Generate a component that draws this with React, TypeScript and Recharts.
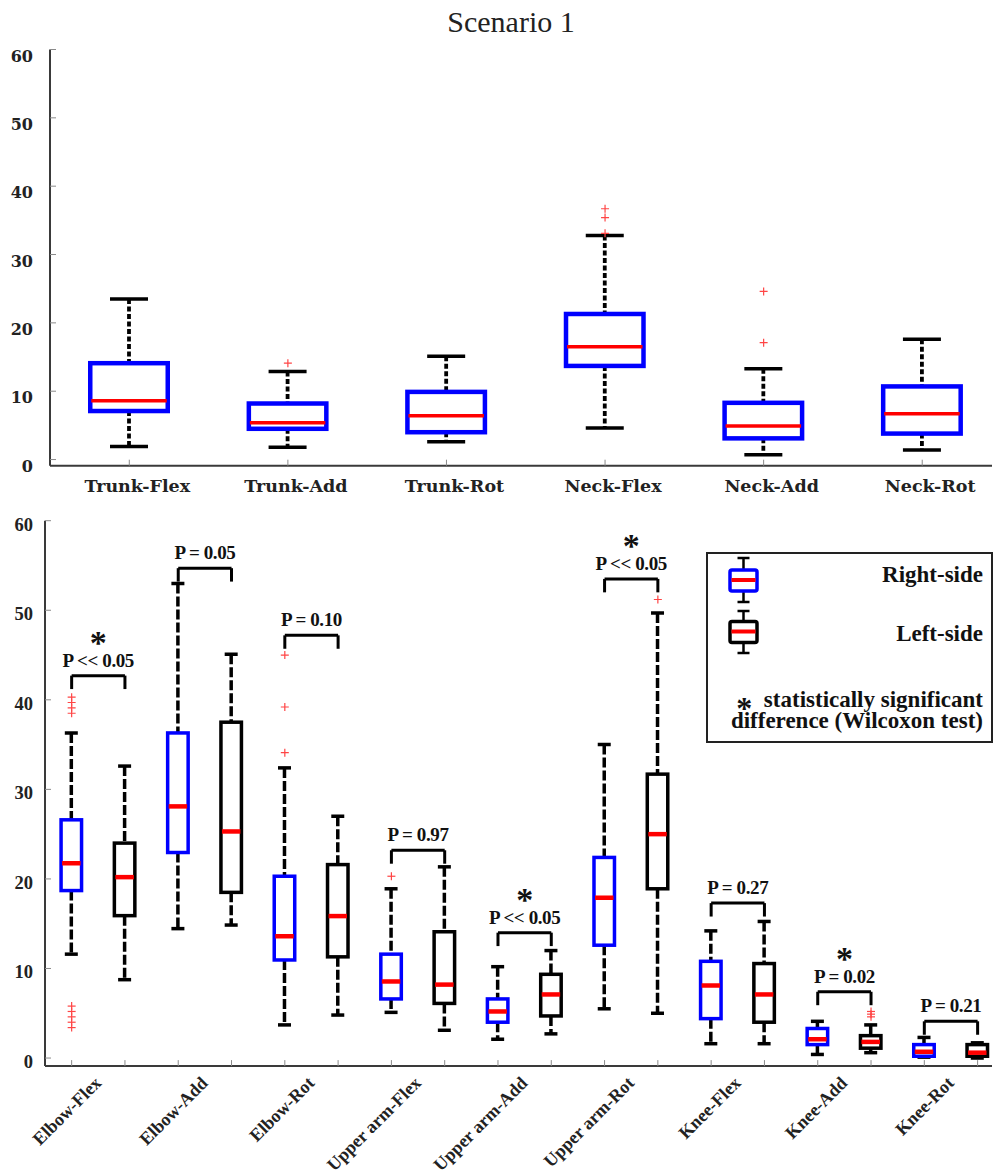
import React from 'react';
import { ComposedChart, Bar, Scatter, XAxis, YAxis, ReferenceLine } from 'recharts';

// ---- top panel: trunk & neck (right side only) ----
const topJoints = ['Trunk-Flex', 'Trunk-Add', 'Trunk-Rot', 'Neck-Flex', 'Neck-Add', 'Neck-Rot'];
const topMin = [1.9, 1.8, 2.6, 4.6, 0.7, 1.4];
const topQ1 = [7.1, 4.5, 4.0, 13.7, 3.1, 3.8];
const topMedian = [8.6, 5.4, 6.4, 16.5, 4.9, 6.7];
const topQ3 = [14.1, 8.2, 9.9, 21.3, 8.3, 10.7];
const topMax = [23.5, 12.9, 15.1, 32.8, 13.3, 17.6];
const topOutliers: number[][] = [[], [14.1], [], [36.7, 35.4, 33.1], [24.6, 17.1], []];

// ---- bottom panel: limbs, right vs left side ----
const limbJoints = ['Elbow-Flex', 'Elbow-Add', 'Elbow-Rot', 'Upper arm-Flex', 'Upper arm-Add', 'Upper arm-Rot', 'Knee-Flex', 'Knee-Add', 'Knee-Rot'];
const rightMin = [11.6, 14.45, 3.7, 5.1, 2.1, 5.5, 1.6, 0.4, 0.1];
const rightQ1 = [18.7, 22.95, 10.95, 6.6, 4.0, 12.6, 4.4, 1.5, 0.2];
const rightMedian = [21.75, 28.1, 13.6, 8.55, 5.2, 17.9, 8.1, 2.1, 0.7];
const rightQ3 = [26.6, 36.3, 20.3, 11.6, 6.6, 22.4, 10.8, 3.3, 1.5];
const rightMax = [36.3, 53.0, 32.4, 18.9, 10.2, 35.0, 14.2, 4.1, 2.3];
const rightOutliers: number[][] = [[40.3, 39.7, 39.1, 38.5, 5.8, 5.2, 4.6, 4.0, 3.4], [], [45.0, 39.2, 34.1], [20.3], [], [], [], [], []];

const leftMin = [8.75, 14.85, 4.8, 3.1, 2.7, 5.0, 1.6, 0.6, 0.0];
const leftQ1 = [15.9, 18.5, 11.3, 6.1, 4.7, 18.9, 4.0, 1.1, 0.2];
const leftMedian = [20.2, 25.3, 15.85, 8.2, 7.1, 25.0, 7.1, 1.8, 0.6];
const leftQ3 = [24.0, 37.5, 21.6, 14.1, 9.35, 31.7, 10.55, 2.5, 1.5];
const leftMax = [32.6, 45.1, 27.0, 21.35, 12.0, 49.7, 15.25, 3.7, 1.7];
const leftOutliers: number[][] = [[], [], [], [], [], [51.2], [], [5.2, 4.9, 4.6], []];

// Wilcoxon annotations
const pLabels = ['P << 0.05', 'P = 0.05', 'P = 0.10', 'P = 0.97', 'P << 0.05', 'P << 0.05', 'P = 0.27', 'P = 0.02', 'P = 0.21'];
const pSignificant = [true, false, false, false, true, true, false, true, false];
const bracketLevel = [42.7, 54.7, 47.2, 23.2, 14.0, 53.5, 17.3, 7.4, 4.1];

const yTicks = [0, 10, 20, 30, 40, 50, 60];
const yDomain: [number, number] = [-0.9, 60];

const AXIS = '#3a3a3a';
const TICK = '#8a8a8a';
const BLUE = '#0000ff';
const RED = '#ff0000';
const SERIF = 'Liberation Serif, Times New Roman, serif';

const topData = topJoints.map((name, i) => ({
  pos: i + 1,
  name,
  side: 'right',
  range: [topMin[i], topMax[i]],
  min: topMin[i],
  q1: topQ1[i],
  median: topMedian[i],
  q3: topQ3[i],
  max: topMax[i],
}));
const topOutlierData = topOutliers.flatMap((vals, i) => vals.map((v) => ({ pos: i + 1, value: v })));

const limbData = limbJoints.flatMap((name, i) => [
  {
    pos: 2 * i + 1,
    name,
    side: 'right',
    range: [rightMin[i], rightMax[i]],
    min: rightMin[i],
    q1: rightQ1[i],
    median: rightMedian[i],
    q3: rightQ3[i],
    max: rightMax[i],
  },
  {
    pos: 2 * i + 2,
    name,
    side: 'left',
    range: [leftMin[i], leftMax[i]],
    min: leftMin[i],
    q1: leftQ1[i],
    median: leftMedian[i],
    q3: leftQ3[i],
    max: leftMax[i],
  },
]);
const limbOutlierData = [
  ...rightOutliers.flatMap((vals, i) => vals.map((v) => ({ pos: 2 * i + 1, value: v }))),
  ...leftOutliers.flatMap((vals, i) => vals.map((v) => ({ pos: 2 * i + 2, value: v }))),
];
const annotationData = pLabels.map((label, i) => ({
  pos: 2 * i + 1.5,
  value: bracketLevel[i],
  label,
  sig: pSignificant[i],
}));

const topPositions = topJoints.map((_, i) => i + 1);
const limbPositions = limbData.map((d) => d.pos);
// integer ticks carry the marks, the half ticks carry the joint names
const limbTicks = [...limbPositions, ...limbJoints.map((_, i) => 2 * i + 1.5)].sort((a, b) => a - b);

interface BoxLook {
  boxStroke: number;
  whisker: number;
  dash: string;
  cap: number;
  median: number;
}

const topLook: BoxLook = { boxStroke: 4.5, whisker: 3.8, dash: '5 2.5', cap: 19, median: 3.5 };
const limbLook: BoxLook = { boxStroke: 3.5, whisker: 3.5, dash: '10 3', cap: 6.5, median: 4.5 };

function BoxShape(props: any) {
  const { x, y, width, height, payload, look } = props;
  if (!payload || height == null || isNaN(height)) return null;
  const { min, q1, median, q3, max } = payload;
  const k = max - min > 0 ? height / (max - min) : 0;
  const py = (v: number) => y + (max - v) * k;
  const cx = x + width / 2;
  const half = width / 2 - look.boxStroke / 2;
  const color = payload.side === 'left' ? '#000' : BLUE;
  return (
    <g>
      <line x1={cx} x2={cx} y1={py(max)} y2={py(q3)} stroke="#000" strokeWidth={look.whisker} strokeDasharray={look.dash} />
      <line x1={cx} x2={cx} y1={py(q1)} y2={py(min)} stroke="#000" strokeWidth={look.whisker} strokeDasharray={look.dash} />
      <line x1={cx - look.cap} x2={cx + look.cap} y1={py(max)} y2={py(max)} stroke="#000" strokeWidth={3.5} />
      <line x1={cx - look.cap} x2={cx + look.cap} y1={py(min)} y2={py(min)} stroke="#000" strokeWidth={3.5} />
      <rect x={cx - half} y={py(q3)} width={2 * half} height={Math.max(py(q1) - py(q3), 0)} fill="#fff" stroke={color} strokeWidth={look.boxStroke} />
      <line x1={cx - half + 1} x2={cx + half - 1} y1={py(median)} y2={py(median)} stroke={RED} strokeWidth={look.median} />
    </g>
  );
}

function Plus(props: any) {
  const { cx, cy } = props;
  return (
    <g stroke="#ff4545" strokeWidth={1.2}>
      <line x1={cx - 4} x2={cx + 4} y1={cy} y2={cy} />
      <line x1={cx} x2={cx} y1={cy - 4} y2={cy + 4} />
    </g>
  );
}

function PLabel(props: any) {
  const { cx, cy, payload } = props;
  return (
    <text textAnchor="middle" fontFamily={SERIF} fontWeight="bold" fill="#111">
      {payload.sig && (
        <tspan x={cx} y={cy - 22} fontSize={34}>*</tspan>
      )}
      <tspan x={cx} y={cy - 9} fontSize={19} letterSpacing={-0.4}>{payload.label}</tspan>
    </text>
  );
}

// ---- tick renderers (tickSize / tickMargin are 0, so x/y sit on the axis line) ----
function TopXTick(props: any) {
  const { x, y, payload } = props;
  return (
    <g>
      <line x1={x} x2={x} y1={y} y2={y - 6} stroke={TICK} />
      <text x={x + 8} y={y + 26} textAnchor="middle" fontFamily="DejaVu Serif" fontWeight="bold" fontSize={17.5} fill="#222">
        {topJoints[payload.value - 1]}
      </text>
    </g>
  );
}

function LimbXTick(props: any) {
  const { x, y, payload } = props;
  const v = payload.value;
  if (Number.isInteger(v)) {
    return <line x1={x} x2={x} y1={y} y2={y - 6} stroke={TICK} />;
  }
  return (
    <text transform={`translate(${x + 4},${y + 18}) rotate(-45)`} textAnchor="end" fontFamily={SERIF} fontWeight="bold" fontSize={18} fill="#222">
      {limbJoints[(v - 1.5) / 2]}
    </text>
  );
}

function TopEdgeTick(props: any) {
  const { x, y } = props;
  return <line x1={x} x2={x} y1={y} y2={y + 6} stroke={TICK} />;
}

function RightEdgeTick(props: any) {
  const { x, y } = props;
  return <line x1={x - 6} x2={x} y1={y} y2={y} stroke={TICK} />;
}

function makeYTick(gap: number, dy: number, font: string, size: number) {
  return (props: any) => {
    const { x, y, payload } = props;
    return (
      <g>
        <line x1={x} x2={x + 6} y1={y} y2={y} stroke={TICK} />
        <text x={x - gap} y={y + dy} textAnchor="end" fontFamily={font} fontWeight="bold" fontSize={size} fill="#222">
          {payload.value}
        </text>
      </g>
    );
  };
}

const TopYTick = makeYTick(17, 12, 'DejaVu Serif', 16);
const LimbYTick = makeYTick(12, 10, SERIF, 18.5);

const axisLine = { stroke: AXIS, strokeWidth: 2 };

export default function App() {
  return (
    <div style={{ position: 'absolute', left: 0, top: 0, width: 993, height: 1175, background: '#fff' }}>
      <div style={{ position: 'absolute', left: 0, top: 0 }}>
        <ComposedChart width={993} height={500} data={topData} margin={{ top: 49.5, right: 1, bottom: 0, left: 0 }}>
          <XAxis xAxisId="b" dataKey="pos" type="number" domain={[0.5, 6.44]} allowDataOverflow ticks={topPositions} interval={0}
            tickSize={0} tickMargin={0} height={34.3} axisLine={axisLine} tickLine={false} tick={(p: any) => <TopXTick {...p} />} />
          <XAxis xAxisId="t" orientation="top" dataKey="pos" type="number" domain={[0.5, 6.44]} allowDataOverflow ticks={topPositions} interval={0}
            tickSize={0} tickMargin={0} height={0} axisLine={axisLine} tickLine={false} tick={(p: any) => <TopEdgeTick {...p} />} />
          <YAxis yAxisId="l" type="number" domain={yDomain} allowDataOverflow ticks={yTicks} interval={0} width={50}
            tickSize={0} tickMargin={0} axisLine={axisLine} tickLine={false} tick={(p: any) => <TopYTick {...p} />} />
          <YAxis yAxisId="r" orientation="right" type="number" domain={yDomain} allowDataOverflow ticks={yTicks} interval={0} width={0}
            tickSize={0} tickMargin={0} axisLine={axisLine} tickLine={false} tick={(p: any) => <RightEdgeTick {...p} />} />
          <Bar xAxisId="b" yAxisId="l" dataKey="range" barSize={82} isAnimationActive={false}
            shape={(p: any) => <BoxShape {...p} look={topLook} />} />
          <Scatter xAxisId="b" yAxisId="l" data={topOutlierData} dataKey="value" isAnimationActive={false}
            shape={(p: any) => <Plus {...p} />} />
        </ComposedChart>
      </div>

      <div style={{ position: 'absolute', left: 0, top: 500 }}>
        <ComposedChart width={993} height={675} data={limbData} margin={{ top: 20.7, right: 1, bottom: 0, left: 0 }}>
          <XAxis xAxisId="b" dataKey="pos" type="number" domain={[0.5, 18.27]} allowDataOverflow ticks={limbTicks} interval={0}
            tickSize={0} tickMargin={0} height={108.9} axisLine={axisLine} tickLine={false} tick={(p: any) => <LimbXTick {...p} />} />
          <XAxis xAxisId="t" orientation="top" dataKey="pos" type="number" domain={[0.5, 18.27]} allowDataOverflow ticks={limbPositions} interval={0}
            tickSize={0} tickMargin={0} height={0} axisLine={axisLine} tickLine={false} tick={(p: any) => <TopEdgeTick {...p} />} />
          <YAxis yAxisId="l" type="number" domain={yDomain} allowDataOverflow ticks={yTicks} interval={0} width={45}
            tickSize={0} tickMargin={0} axisLine={axisLine} tickLine={false} tick={(p: any) => <LimbYTick {...p} />} />
          <YAxis yAxisId="r" orientation="right" type="number" domain={yDomain} allowDataOverflow ticks={yTicks} interval={0} width={0}
            tickSize={0} tickMargin={0} axisLine={axisLine} tickLine={false} tick={(p: any) => <RightEdgeTick {...p} />} />
          <Bar xAxisId="b" yAxisId="l" dataKey="range" barSize={29} isAnimationActive={false}
            shape={(p: any) => <BoxShape {...p} look={limbLook} />} />
          {annotationData.map((a, i) => {
            const left = a.pos - 0.5;
            const right = a.pos + 0.5;
            const top = a.value;
            const foot = a.value - 1.5;
            return [
              <ReferenceLine key={`h${i}`} xAxisId="b" yAxisId="l" ifOverflow="visible" stroke="#000" strokeWidth={3}
                segment={[{ x: left, y: top }, { x: right, y: top }]} />,
              <ReferenceLine key={`l${i}`} xAxisId="b" yAxisId="l" ifOverflow="visible" stroke="#000" strokeWidth={3}
                segment={[{ x: left, y: top }, { x: left, y: foot }]} />,
              <ReferenceLine key={`r${i}`} xAxisId="b" yAxisId="l" ifOverflow="visible" stroke="#000" strokeWidth={3}
                segment={[{ x: right, y: top }, { x: right, y: foot }]} />,
            ];
          })}
          <Scatter xAxisId="b" yAxisId="l" data={limbOutlierData} dataKey="value" isAnimationActive={false}
            shape={(p: any) => <Plus {...p} />} />
          <Scatter xAxisId="b" yAxisId="l" data={annotationData} dataKey="value" isAnimationActive={false}
            shape={(p: any) => <PLabel {...p} />} />
        </ComposedChart>
      </div>

      {/* title and legend */}
      <svg width={993} height={1175} style={{ position: 'absolute', left: 0, top: 0, pointerEvents: 'none' }}>
        <text x={511} y={32} textAnchor="middle" fontFamily={SERIF} fontSize={30} fill="#222">Scenario 1</text>
        <rect x={707} y={553} width={285} height={189} fill="#fff" stroke="#222" strokeWidth={2} />
        <g>
          <line x1={743.5} x2={743.5} y1={558} y2={602} stroke="#000" strokeWidth={2.5} />
          <line x1={737.5} x2={749.5} y1={558} y2={558} stroke="#000" strokeWidth={2.5} />
          <line x1={737.5} x2={749.5} y1={602} y2={602} stroke="#000" strokeWidth={2.5} />
          <rect x={730} y={570} width={27} height={21} rx={2} fill="#fff" stroke={BLUE} strokeWidth={3.5} />
          <line x1={731.5} x2={755.5} y1={580} y2={580} stroke={RED} strokeWidth={4} />
        </g>
        <g>
          <line x1={743.5} x2={743.5} y1={611} y2={653} stroke="#000" strokeWidth={2.5} />
          <line x1={737.5} x2={749.5} y1={611} y2={611} stroke="#000" strokeWidth={2.5} />
          <line x1={737.5} x2={749.5} y1={653} y2={653} stroke="#000" strokeWidth={2.5} />
          <rect x={730} y={621.5} width={27} height={21} rx={2} fill="#fff" stroke="#000" strokeWidth={3.5} />
          <line x1={731.5} x2={755.5} y1={631.5} y2={631.5} stroke={RED} strokeWidth={4} />
        </g>
        <g fontFamily={SERIF} fontWeight="bold" fontSize={23} fill="#111" textAnchor="end">
          <text x={983} y={582}>Right-side</text>
          <text x={983} y={641}>Left-side</text>
          <text x={983} y={707}>
            <tspan fontSize={32} dy={12}>*</tspan>
            <tspan dy={-12}>{'\u00a0\u00a0statistically significant'}</tspan>
          </text>
          <text x={983} y={728}>difference (Wilcoxon test)</text>
        </g>
      </svg>
    </div>
  );
}
